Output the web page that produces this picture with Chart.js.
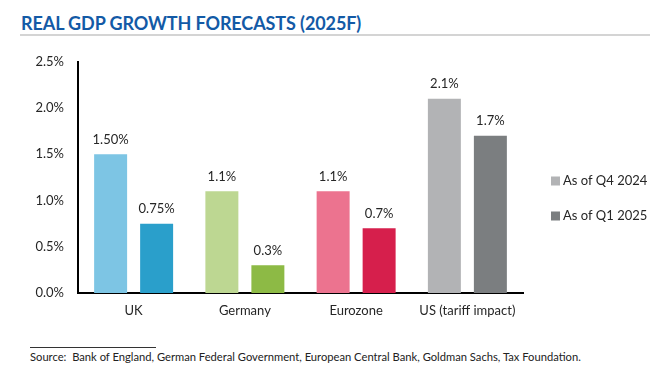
<!DOCTYPE html>
<html>
<head>
<meta charset="utf-8">
<script src="https://cdn.jsdelivr.net/npm/chart.js@4"></script>
<style>
  html, body { margin: 0; padding: 0; background: #fff; }
  body { width: 662px; height: 377px; position: relative; overflow: hidden; font-family: Lato, "Open Sans", sans-serif; }
  #title { position: absolute; left: 21px; top: 12px; font-size: 18px; font-weight: 700; color: #135aa6; letter-spacing: -0.1px; }
  #rule { position: absolute; left: 20px; top: 34px; width: 630px; height: 2px; background: #d4d4d4; }
  #wrap { position: absolute; left: 0; top: 40px; width: 662px; height: 285px; }
  #srcline { position: absolute; left: 30px; top: 347px; width: 126px; height: 1px; background: #333; }
  #source { position: absolute; left: 30px; top: 350px; font-size: 11.2px; color: #222; }
</style>
</head>
<body>
<div id="title">REAL GDP GROWTH FORECASTS (2025F)</div>
<div id="rule"></div>
<div id="wrap"><canvas id="gdpChart"></canvas></div>
<div id="srcline"></div>
<div id="source">Source:&nbsp; Bank of England, German Federal Government, European Central Bank, Goldman Sachs, Tax Foundation.</div>
<script>
// categories and series
const regions = ['UK', 'Germany', 'Eurozone', 'US (tariff impact)'];
const seriesNames = ['As of Q4 2024', 'As of Q1 2025'];
const q4_2024 = [1.5, 1.1, 1.1, 2.1];
const q1_2025 = [0.75, 0.3, 0.7, 1.7];
const q4Labels = ['1.50%', '1.1%', '1.1%', '2.1%'];
const q1Labels = ['0.75%', '0.3%', '0.7%', '1.7%'];
const yTicks = [0, 0.5, 1.0, 1.5, 2.0, 2.5];

// colours: light shade = Q4 2024, dark shade = Q1 2025
const lightColors = ['#7dc5e4', '#bdd792', '#ec738f', '#b2b3b5'];
const darkColors = ['#2a9fcb', '#8dba45', '#d61f4c', '#7b7e80'];
const legendColors = ['#b2b3b5', '#7b7e80'];

const valueLabels = {
    id: 'valueLabels',
    afterDatasetsDraw(chart) {
        const ctx = chart.ctx;
        const texts = [q4Labels, q1Labels];
        ctx.save();
        ctx.font = '13px Lato, sans-serif';
        ctx.fillStyle = '#262626';
        ctx.textAlign = 'center';
        ctx.textBaseline = 'bottom';
        chart.data.datasets.forEach((ds, i) => {
            chart.getDatasetMeta(i).data.forEach((bar, j) => {
                ctx.fillText(texts[i][j], bar.x, bar.y - 8);
            });
        });
        ctx.restore();
    }
};

const sideLegend = {
    id: 'sideLegend',
    afterDraw(chart) {
        const ctx = chart.ctx;
        const area = chart.chartArea;
        const x = area.right + 28;
        const ys = [141, 176];
        ctx.save();
        ctx.font = '13px Lato, sans-serif';
        ctx.textBaseline = 'middle';
        ctx.textAlign = 'left';
        seriesNames.forEach((name, i) => {
            ctx.fillStyle = legendColors[i];
            ctx.fillRect(x, ys[i] - 4.5, 9, 9);
            ctx.fillStyle = '#262626';
            ctx.fillText(name, x + 12, ys[i]);
        });
        ctx.restore();
    }
};

document.addEventListener('DOMContentLoaded', () => {
    const ctx = document.getElementById('gdpChart').getContext('2d');

    new Chart(ctx, {
        type: 'bar',
        data: {
            labels: regions,
            datasets: [
                {
                    label: seriesNames[0],
                    data: q4_2024,
                    backgroundColor: lightColors,
                    categoryPercentage: 0.827,
                    barPercentage: 0.717
                },
                {
                    label: seriesNames[1],
                    data: q1_2025,
                    backgroundColor: darkColors,
                    categoryPercentage: 0.827,
                    barPercentage: 0.717
                }
            ]
        },
        options: {
            responsive: true,
            maintainAspectRatio: false,
            animation: false,
            layout: {
                padding: { top: 20, right: 139, left: 0, bottom: 0 }
            },
            plugins: {
                legend: { display: false },
                tooltip: { enabled: false }
            },
            scales: {
                x: {
                    grid: { display: false, drawTicks: false },
                    border: { display: true, color: '#000', width: 2 },
                    ticks: {
                        color: '#262626',
                        padding: 10,
                        font: { family: 'Lato', size: 13 }
                    },
                    afterFit(scale) { scale.height = 32; }
                },
                y: {
                    min: 0,
                    max: 2.5,
                    grid: { display: false, drawTicks: false },
                    border: { display: true, color: '#000', width: 2 },
                    afterBuildTicks(scale) {
                        scale.ticks = yTicks.map(v => ({ value: v }));
                    },
                    ticks: {
                        color: '#262626',
                        padding: 14,
                        font: { family: 'Lato', size: 13 },
                        callback: v => v.toFixed(1) + '%'
                    },
                    afterFit(scale) { scale.width = 78; }
                }
            }
        },
        plugins: [valueLabels, sideLegend]
    });
});
</script>
</body>
</html>
